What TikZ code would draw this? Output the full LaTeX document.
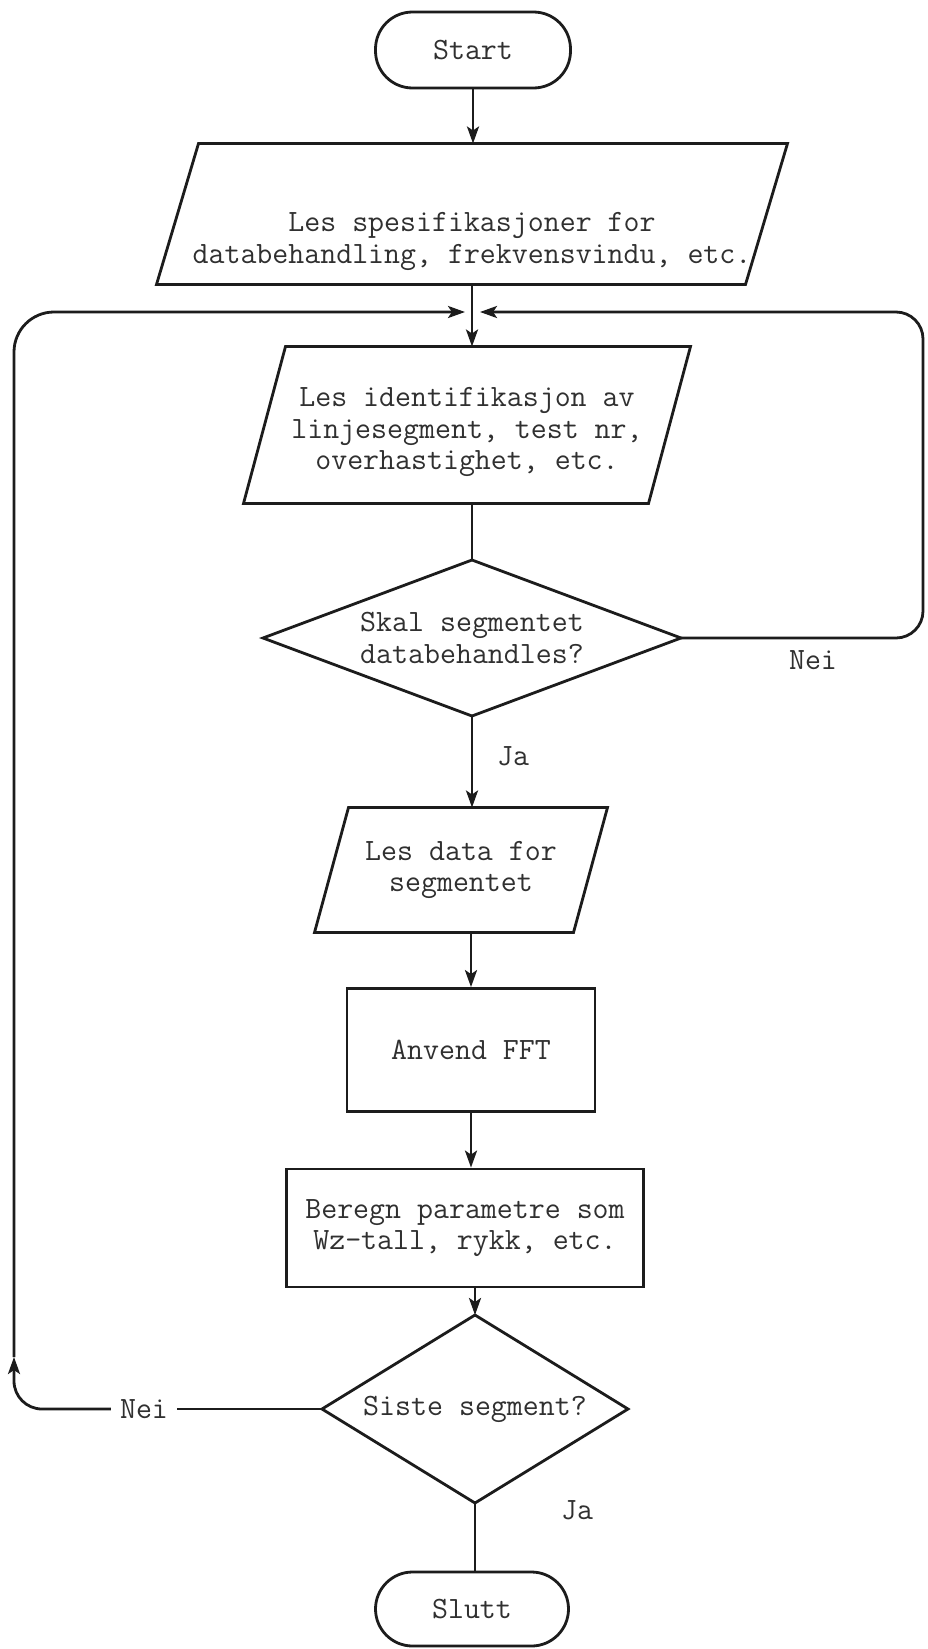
\documentclass[tikz,border=0pt]{standalone}
\usepackage{fontspec}
\usetikzlibrary{shapes.geometric,arrows.meta,calc}
\definecolor{inkc}{RGB}{28,28,28}
\definecolor{textc}{RGB}{48,48,48}
\newcommand\tfont{\fontsize{31}{31.5}\selectfont\ttfamily\addfontfeature{FakeBold=2.2}}
% slanted input/output frame drawn around a (borderless) node
\newcommand\ioframe[2]{%
  \draw[ink] ($(#1.south west)+(-#2/2,0)$) -- ($(#1.south east)+(-#2/2,0)$)
    -- ($(#1.north east)+(#2/2,0)$) -- ($(#1.north west)+(#2/2,0)$) -- cycle;}
% text lowered inside its node without changing the node size
\newcommand\lowtext[2]{\raisebox{-#1}[\height][\depth]{\begin{tabular}{@{}c@{}}#2\end{tabular}}}
\begin{document}
\begin{tikzpicture}[x=1pt,y=-1pt,
  ink/.style={draw=inkc, line width=2.8pt},
  flow/.style={ink, -{Stealth[length=17pt,width=12pt,inset=4pt]}},
  lbl/.style={text=textc, font=\tfont, inner sep=0pt},
  term/.style={ink, lbl, rectangle, rounded corners=37pt, minimum width=195pt, minimum height=76pt},
  proc/.style={ink, lbl, rectangle, align=center},
  io/.style={lbl, rectangle, align=center, outer sep=0pt},
  dec/.style={ink, lbl, diamond, align=center, outer sep=0pt}]
\fill[white] (0,0) rectangle (927,1649);
\useasboundingbox (0,0) rectangle (927,1649);

% blocks
\node[term] (start) at (473,50) {Start};
\node[io, minimum width=589pt, minimum height=141pt] (p1) at (472,214)
  {\lowtext{27pt}{Les spesifikasjoner for\\databehandling, frekvensvindu, etc.}};
\ioframe{p1}{42}
\node[io, minimum width=405pt, minimum height=157pt] (p2) at (467,425)
  {\lowtext{7pt}{Les identifikasjon av\\linjesegment, test nr,\\overhastighet, etc.}};
\ioframe{p2}{42}
\node[dec, minimum width=418pt, minimum height=156pt, aspect=2.68] (d1) at (472,638)
  {Skal segmentet\\databehandles?};
\node[io, minimum width=259pt, minimum height=125pt] (p3) at (461,870)
  {Les data for\\segmentet};
\ioframe{p3}{34}
\node[proc, minimum width=248pt, minimum height=123pt] (fft) at (471,1050) {Anvend FFT};
\node[proc, minimum width=357pt, minimum height=118pt] (ber) at (465,1228)
  {Beregn parametre som\\Wz-tall, rykk, etc.};
\node[dec, minimum width=306pt, minimum height=188pt, aspect=1.63] (d2) at (475,1409)
  {Siste segment?};
\node[term, minimum width=193pt, minimum height=74pt] (slutt) at (472,1609) {Slutt};

% labels
\node[lbl] (ja1) at (513,756) {Ja};
\node[lbl] (ja2) at (577,1510) {Ja};
\node[lbl] (nei1) at (813,660) {Nei};
\node[lbl, inner xsep=9pt] (nei2) at (144,1409) {Nei};

% loop junction points
\coordinate (mg) at (472,312);
\coordinate (mgL) at (465,312);
\coordinate (mgR) at (480,312);
\coordinate (rtop) at (923,312);
\coordinate (lup) at (14,1357);

% main flow
\draw[flow] (start) -- (start |- p1.north);
\draw[flow] (mg |- p1.south) -- (mg |- p2.north);
\draw[ink] (d1.north |- p2.south) -- (d1.north);
\draw[flow] (d1.south) -- (d1.south |- p3.north);
\draw[flow] (fft.north |- p3.south) -- (fft.north);
\draw[flow] (fft.south) -- (fft.south |- ber.north);
\draw[flow] (d2.north |- ber.south) -- (d2.north);
\draw[ink] (d2.south) -- (d2.south |- slutt.north);

% "Nei" loop from the first decision
\draw[flow, rounded corners=27pt] (d1.east) -| (rtop) -- (mgR);

% "Nei" loop from the last decision
\draw[ink] (d2.west) -- (nei2.east);
\draw[flow, rounded corners=28pt] (nei2.west) -| (lup);
\draw[flow, rounded corners=40pt] (lup) |- (mgL);
\end{tikzpicture}
\end{document}
